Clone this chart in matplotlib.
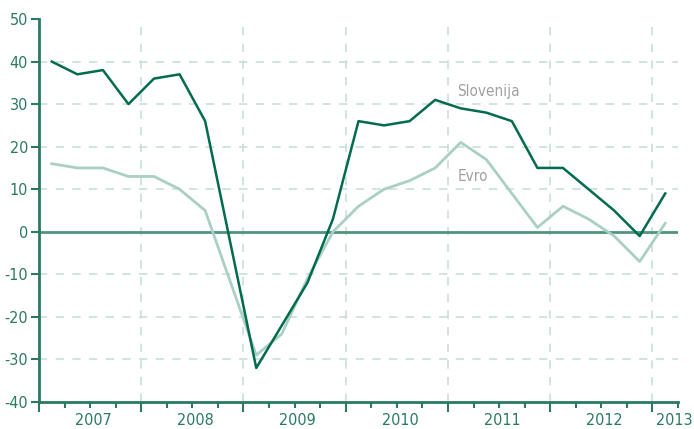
import matplotlib
matplotlib.use("Agg")
import matplotlib.pyplot as plt
from matplotlib import font_manager
import numpy as np

# quarterly growth, 2007Q1 .. 2013Q1
years = ['2007', '2008', '2009', '2010', '2011', '2012', '2013']
slovenija = [40, 37, 38, 30, 36, 37, 26, -3, -32, -22, -12, 3,
             26, 25, 26, 31, 29, 28, 26, 15, 15, 10, 5, -1, 9]
evro = [16, 15, 15, 13, 13, 10, 5, -12, -29, -24, -11, 0,
        6, 10, 12, 15, 21, 17, 9, 1, 6, 3, -1, -7, 2]

DARK = '#006b4d'
LIGHT = '#a9d0c3'
AXIS = '#2b7a5f'
ZERO = '#4e9580'
GRID = '#c8dfd7'
TEXT = '#2b7a5f'

names = {f.name for f in font_manager.fontManager.ttflist}
narrow = [f for f in ['Liberation Sans Narrow', 'Arial Narrow'] if f in names]
plt.rcParams['font.family'] = narrow + ['DejaVu Sans']
if not narrow:
    plt.rcParams['font.stretch'] = 'condensed'
plt.rcParams['axes.unicode_minus'] = False

fig = plt.figure(figsize=(6.94, 4.29), dpi=100)
ax = fig.add_axes([39 / 694, 27 / 429, 639 / 694, 383 / 429])

n = len(slovenija)
x = np.arange(n) + 0.5

ax.set_xlim(0, n)
ax.set_ylim(-40, 50)

# grid
for yv in range(-30, 50, 10):
    if yv != 0:
        ax.axhline(yv, color=GRID, lw=1.2, ls=(0, (5, 5)), zorder=1)
for xv in range(4, n, 4):
    ax.axvline(xv, color=GRID, lw=1.2, ls=(0, (5, 5)), zorder=1)
ax.axhline(0, color=ZERO, lw=2, zorder=2)

ax.plot(x, evro, color=LIGHT, lw=2, zorder=3)
ax.plot(x, slovenija, color=DARK, lw=1.8, zorder=4)

ax.text(16.37, 33, 'Slovenija', color='#a0a0a0', fontsize=11, va='center', ha='left')
ax.text(16.37, 13, 'Evro', color='#a0a0a0', fontsize=11, va='center', ha='left')

# axes styling
for s in ['top', 'right']:
    ax.spines[s].set_visible(False)
for s in ['left', 'bottom']:
    ax.spines[s].set_color(AXIS)
    ax.spines[s].set_linewidth(2)

ax.set_yticks(range(-40, 51, 10))
ax.tick_params(axis='y', colors=AXIS, labelcolor=TEXT, labelsize=11.5,
               length=6, width=1.5, pad=2)

ax.set_xticks(range(0, n, 4))
ax.set_xticklabels([])
ax.set_xticks(range(0, n + 1), minor=True)
ax.tick_params(axis='x', which='major', colors=AXIS, length=7, width=1.5)
ax.tick_params(axis='x', which='minor', colors=AXIS, length=4, width=1.5)

label_pos = [2.12 + 4 * i for i in range(6)] + [24.84]
for lx, lab in zip(label_pos, years):
    ax.text(lx, -0.048, lab, transform=ax.get_xaxis_transform(),
            ha='center', va='center', color=TEXT, fontsize=11.5)

fig.savefig('out.png', dpi=100)
